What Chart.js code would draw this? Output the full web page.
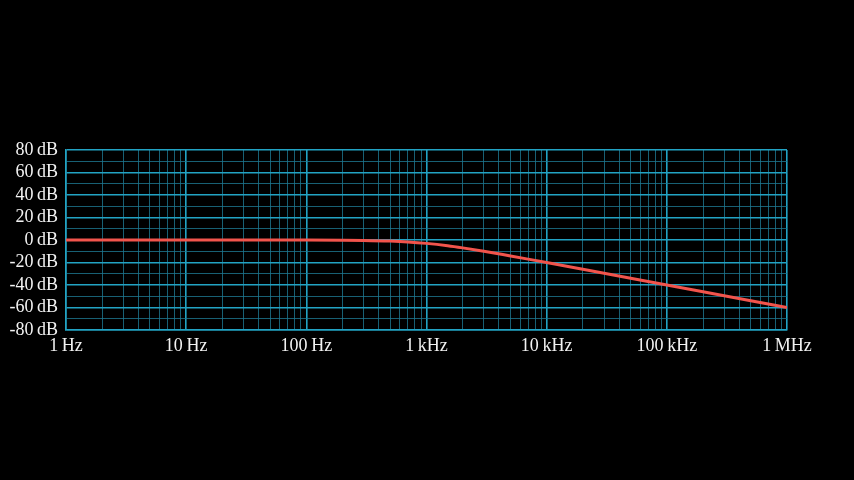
<!DOCTYPE html>
<html>
<head>
<meta charset="utf-8">
<script src="https://cdn.jsdelivr.net/npm/chart.js@4/dist/chart.umd.min.js"></script>
<style>
html,body{margin:0;padding:0;background:#000;}
canvas{display:block;}
</style>
</head>
<body>
<canvas id="c" width="854" height="480"></canvas>
<script>
// Data
const frequencies = [1, 10, 100, 200, 300, 500, 700, 1000, 1500, 2000, 3000, 5000, 7000, 10000, 20000, 50000, 100000, 200000, 500000, 1000000];
const gainDb      = [0, 0, -0.04, -0.17, -0.37, -0.97, -1.7, -3.0, -5.1, -7.0, -10.0, -14.2, -17.0, -20.0, -26.0, -34.0, -40.0, -46.0, -54.0, -60.0];
const xDecadeLabels = {1: '1\u2009Hz', 10: '10\u2009Hz', 100: '100\u2009Hz', 1000: '1\u2009kHz', 10000: '10\u2009kHz', 100000: '100\u2009kHz', 1000000: '1\u2009MHz'};
const yTickValues = [-80, -70, -60, -50, -40, -30, -20, -10, 0, 10, 20, 30, 40, 50, 60, 70, 80];

const MAJOR = '#22a3c4';
const MINOR = 'rgba(30,120,145,0.8)';
const FONT = {family: '"Liberation Serif", "DejaVu Serif", serif', size: 18};

function isDecade(v){ const l = Math.log10(v); return Math.abs(l - Math.round(l)) < 1e-9; }

new Chart(document.getElementById('c'), {
  type: 'line',
  data: {
    datasets: [{
      data: frequencies.map((f, i) => ({x: f, y: gainDb[i]})),
      borderColor: '#f2544c',
      borderWidth: 3,
      pointRadius: 0,
      cubicInterpolationMode: 'monotone',
      fill: false
    }]
  },
  options: {
    responsive: false,
    animation: false,
    devicePixelRatio: 1,
    layout: {padding: {top: 150, right: 67, bottom: 120, left: 0}},
    plugins: {legend: {display: false}, tooltip: {enabled: false}},
    scales: {
      x: {
        type: 'logarithmic',
        min: 1, max: 1000000,
        afterBuildTicks: (s) => {
          const t = [];
          for (let e = 0; e <= 6; e++) {
            for (let m = 1; m <= 9; m++) {
              const v = m * Math.pow(10, e);
              if (v > 1000000) break;
              t.push({value: v});
            }
          }
          s.ticks = t;
        },
        afterFit: (s) => { s.height = 30; },
        border: {display: true, color: MAJOR, width: 1.5},
        grid: {
          drawTicks: false,
          color: (ctx) => (ctx.tick && isDecade(ctx.tick.value)) ? MAJOR : MINOR,
          lineWidth: (ctx) => (ctx.tick && isDecade(ctx.tick.value)) ? 1.6 : 1
        },
        ticks: {
          autoSkip: false, maxRotation: 0, color: '#f2f2f2', font: FONT, padding: 5,
          callback: (v) => xDecadeLabels[v] !== undefined ? xDecadeLabels[v] : ''
        }
      },
      y: {
        type: 'linear',
        min: -80, max: 80,
        afterBuildTicks: (s) => { s.ticks = yTickValues.map(v => ({value: v})); },
        afterFit: (s) => { s.width = 66; },
        border: {display: true, color: MAJOR, width: 1.5},
        grid: {
          drawTicks: false,
          color: (ctx) => (ctx.tick && ctx.tick.value % 20 === 0) ? MAJOR : MINOR,
          lineWidth: (ctx) => (ctx.tick && ctx.tick.value % 20 === 0) ? 1.6 : 1
        },
        ticks: {
          autoSkip: false, color: '#f2f2f2', font: FONT, padding: 8,
          callback: (v) => v % 20 === 0 ? (v + '\u2009dB') : ''
        }
      }
    }
  }
});
</script>
</body>
</html>
